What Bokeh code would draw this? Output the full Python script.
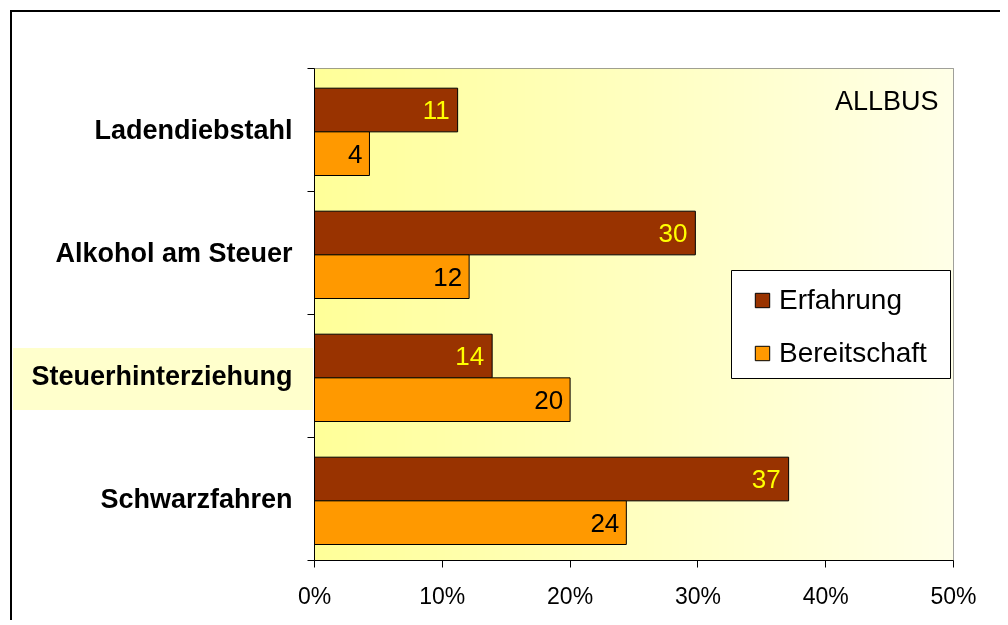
import numpy as np
from bokeh.plotting import figure
from bokeh.models import (Range1d, FixedTicker, ColumnDataSource, Legend,
                          LegendItem, Label, BoxAnnotation, InlineStyleSheet)
from bokeh.embed import file_html
from bokeh.resources import INLINE
from bokeh.core.properties import value

# ---------------- data ----------------
categories = ["Ladendiebstahl", "Alkohol am Steuer", "Steuerhinterziehung", "Schwarzfahren"]
erfahrung = [11.2, 29.8, 13.9, 37.1]
bereitschaft = [4.3, 12.1, 20.0, 24.4]
series_names = ["Erfahrung", "Bereitschaft"]
x_ticks = [0, 10, 20, 30, 40, 50]
x_tick_labels = ["0%", "10%", "20%", "30%", "40%", "50%"]
source_label = "ALLBUS"
highlighted = "Steuerhinterziehung"

FONT = "Liberation Sans"
C_ERF = "#993300"
C_BER = "#FF9900"

n = len(categories)
centers = [n - i - 0.5 for i in range(n)]
boundaries = list(range(n + 1))

# layout (pixels)
W, H = 1000, 620
FL, FT, FW, FH = 314, 68, 639, 492
X0, X1 = x_ticks[0], x_ticks[-1]
ppx = FW / (X1 - X0)
ppy = FH / n


def dx(px):
    return X0 + (px - FL) / ppx


def dy(py):
    return (FT + FH - py) / ppy


p = figure(width=W, height=H, x_range=Range1d(X0, X1),
           y_range=Range1d(0, n), output_backend="svg", toolbar_location=None,
           min_border_left=FL, min_border_right=W - FL - FW, min_border_top=FT,
           min_border_bottom=H - FT - FH)
p.background_fill_color = "#FFFFCC"
p.border_fill_color = "white"
p.outline_line_color = "#808080"
p.xgrid.visible = False
p.ygrid.visible = False

# outer frame (top and left edges visible) and highlight behind one category label
hi = categories.index(highlighted)
hl_top = FT + FH - (centers[hi] + 0.5) * ppy + 34
p.stylesheets = [InlineStyleSheet(css=(
    ":host{position:relative;}"
    ":host::after{content:'';position:absolute;left:10px;top:10px;right:0;bottom:0;"
    "border-left:2px solid #000;border-top:2px solid #000;pointer-events:none;z-index:2;}"
    ":host::before{content:'';position:absolute;left:13px;top:%dpx;width:%dpx;height:62px;"
    "background:#FFFFCC;mix-blend-mode:multiply;pointer-events:none;z-index:1;}"
    % (round(hl_top), FL - 1 - 13)))]

# gradient background of plot area
N = 256
t = np.linspace(0, 1, N)
c0 = np.array([255, 255, 153], dtype=float)
c1 = np.array([255, 255, 232], dtype=float)
img = np.zeros((1, N), dtype=np.uint32)
view = img.view(dtype=np.uint8).reshape((1, N, 4))
for k in range(3):
    view[0, :, k] = (c0[k] + (c1[k] - c0[k]) * t).astype(np.uint8)
view[0, :, 3] = 255
p.image_rgba(image=[img], x=X0, y=0, dw=X1 - X0, dh=n)

bh = 0.355
off = 0.015
src = ColumnDataSource(dict(
    cat=categories,
    e=erfahrung, b=bereitschaft,
    ey=[c - off + bh / 2 for c in centers],
    by=[c - off - bh / 2 for c in centers],
    el=[str(round(v)) for v in erfahrung],
    bl=[str(round(v)) for v in bereitschaft],
))
r1 = p.hbar(y="ey", right="e", left=0, height=bh, fill_color=C_ERF,
            line_color="black", line_width=1, source=src)
r2 = p.hbar(y="by", right="b", left=0, height=bh, fill_color=C_BER,
            line_color="black", line_width=1, source=src)
p.text(x="e", y="ey", text="el", x_offset=-8, text_align="right",
       text_baseline="middle", text_color="#FFFF00", text_font=value(FONT),
       text_font_size="26px", source=src)
p.text(x="b", y="by", text="bl", x_offset=-7, text_align="right",
       text_baseline="middle", text_color="black", text_font=value(FONT),
       text_font_size="26px", source=src)

# x axis
xa = p.xaxis[0]
xa.ticker = FixedTicker(ticks=x_ticks)
xa.major_label_overrides = {k: v for k, v in zip(x_ticks, x_tick_labels)}
xa.major_tick_out = 7
xa.major_tick_in = 0
xa.minor_tick_line_color = None
xa.axis_line_color = "black"
xa.major_tick_line_color = "black"
xa.major_label_text_font = FONT
xa.major_label_text_font_size = "23px"
xa.major_label_text_color = "black"
xa.major_label_standoff = 15

# y axis
ya = p.yaxis[0]
ya.ticker = FixedTicker(ticks=centers, minor_ticks=boundaries)
ya.major_label_overrides = {c: name for c, name in zip(centers, categories)}
ya.major_tick_out = 0
ya.major_tick_in = 0
ya.minor_tick_out = 7
ya.minor_tick_in = 0
ya.minor_tick_line_color = "black"
ya.axis_line_color = "black"
ya.major_label_text_font = FONT
ya.major_label_text_font_style = "bold"
ya.major_label_text_font_size = "27px"
ya.major_label_text_color = "black"
ya.major_label_standoff = 15

# source label
p.add_layout(Label(x=dx(938), y=dy(100), text=source_label, text_align="right",
                   text_baseline="middle", text_font=FONT, text_font_size="27px",
                   text_color="black"))

# legend box + legend
p.add_layout(BoxAnnotation(left=dx(731), right=dx(950), top=dy(270), bottom=dy(378),
                           fill_color="white", fill_alpha=1, line_color="black",
                           line_width=1, line_alpha=1))
legend = Legend(items=[LegendItem(label=series_names[0], renderers=[r1]),
                       LegendItem(label=series_names[1], renderers=[r2])],
                location=(753 - FL, FT + FH - 369), border_line_color=None,
                background_fill_alpha=0,
                label_text_font=FONT, label_text_font_size="28px",
                label_text_color="black",
                glyph_width=18, glyph_height=18, label_standoff=8,
                padding=0, spacing=21, margin=0)
p.add_layout(legend)

open("out.html", "w").write(file_html(p, INLINE))
